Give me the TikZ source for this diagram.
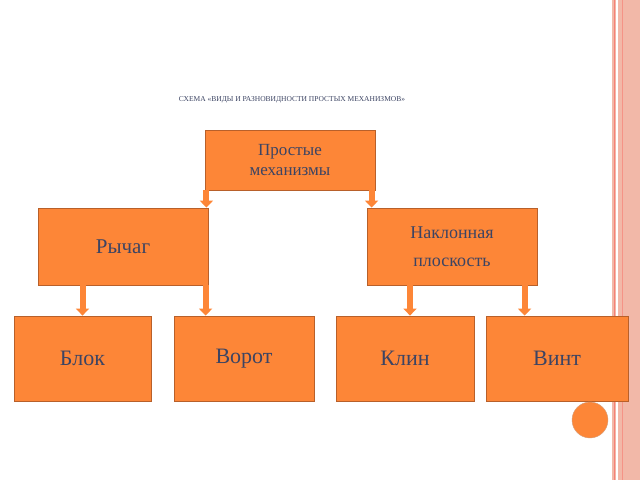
\documentclass[tikz,border=0pt]{standalone}
\usepackage{fontspec}
\setmainfont{Liberation Serif}
\usetikzlibrary{positioning, arrows.meta}
\definecolor{boxfill}{HTML}{FD8637}
\definecolor{boxline}{HTML}{B8602A}
\definecolor{textblue}{HTML}{3C4463}
\definecolor{stripe}{HTML}{F2B8A8}
\begin{document}
\begin{tikzpicture}
    [
        x=1pt, y=-1pt,
        box/.style={rectangle, draw=boxline, fill=boxfill, thick, text=textblue, align=center, inner sep=2pt},
        down_arrow/.style={-{Triangle[length=7pt, width=13pt]}, line width=6pt, draw=boxfill},
    ]
        \useasboundingbox (0,0) rectangle (640,480);
        % right border
        \fill[stripe] (612,0) rectangle (640,480);
        \draw[stripe!70!red, line width=1pt] (614,0) -- (614,480);
        \draw[white, line width=1.5pt] (617,0) -- (617,480);
        \draw[stripe!80!red, line width=0.8pt] (622,0) -- (622,480);
        \node[text=textblue, font=\fontsize{7.5}{9}\selectfont] (title) at (292,100) {СХЕМА «ВИДЫ И РАЗНОВИДНОСТИ ПРОСТЫХ МЕХАНИЗМОВ»};
        \node[box, minimum width=170, minimum height=60, font=\fontsize{17}{20}\selectfont] (root) at (290,160) {Простые\\механизмы};
        \node[box, minimum width=170, minimum height=77, font=\fontsize{21}{24}\selectfont] (lever) at (123,246.5) {Рычаг};
        \node[box, minimum width=170, minimum height=77, font=\fontsize{18}{28}\selectfont] (plane) at (452,246.5) {Наклонная\\плоскость};
        \node[box, minimum width=137, minimum height=85, font=\fontsize{22}{26}\selectfont] (block) at (82.5,358.5) {Блок};
        \node[box, minimum width=140, minimum height=85, font=\fontsize{22}{26}\selectfont] (gate) at (244,358.5) {Ворот};
        \node[box, minimum width=138, minimum height=85, font=\fontsize{22}{26}\selectfont] (wedge) at (405,358.5) {Клин};
        \node[box, minimum width=142, minimum height=85, font=\fontsize{22}{26}\selectfont] (screw) at (557,358.5) {Винт};
        \fill[boxfill, draw=boxline!60] (590,420) circle (18);
        \draw[down_arrow] (root.south west -| lever.north east) ++(-2,0) -- ([xshift=-2]lever.north east);
        \draw[down_arrow] (root.south east -| plane.north west) ++(5,0) -- ([xshift=5]plane.north west);
        \draw[down_arrow] (lever.south -| block.north) -- (block.north);
        \draw[down_arrow] (lever.south -| gate.north west) ++(32,0) -- ([xshift=32]gate.north west);
        \draw[down_arrow] (plane.south -| wedge.north) ++(5,0) -- ([xshift=5]wedge.north);
        \draw[down_arrow] (plane.south -| screw.north west) ++(39,0) -- ([xshift=39]screw.north west);
\end{tikzpicture}
\end{document}
